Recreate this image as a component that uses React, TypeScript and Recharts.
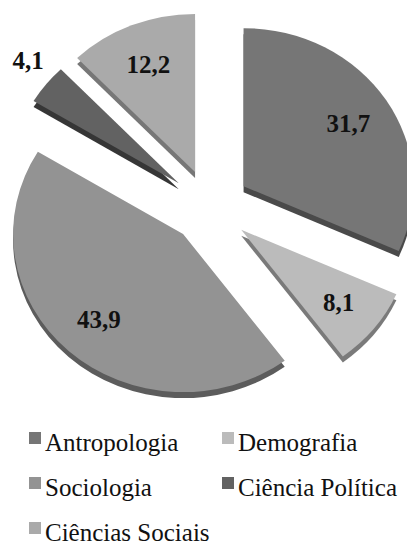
import React from 'react';
import { PieChart, Pie, Cell, Sector, Legend } from 'recharts';

// share of each field (%)
const categories = ['Antropologia', 'Demografia', 'Sociologia', 'Ciência Política', 'Ciências Sociais'];
const shares = [31.7, 8.1, 43.9, 4.1, 12.2];

const faceColors = ['#767676', '#bbbbbb', '#939393', '#626262', '#aaaaaa'];
const sideColors = ['#4a4a4a', '#7a7a7a', '#5c5c5c', '#363636', '#777777'];

const data = categories.map((name, i) => ({ name, value: shares[i] }));

const RAD = Math.PI / 180;
const EXPLODE = 40;
const TILT = 0.93;
const DEPTH = 6;
const FONT = '"Liberation Serif", "Times New Roman"';

const dirOf = (angle: number) => ({ x: Math.cos(-angle * RAD), y: Math.sin(-angle * RAD) });

// slice pulled out along its mid angle, slightly flattened, with a darker rim underneath
const ExplodedSlice = (props: any) => {
  const { cx, cy, midAngle } = props;
  const name = props.payload?.name ?? props.name;
  const idx = categories.indexOf(name);
  const d = dirOf(midAngle);
  const tx = d.x * EXPLODE;
  const ty = cy * (1 - TILT) + d.y * EXPLODE * TILT;
  return (
    <g>
      <g transform={`matrix(1 0 0 ${TILT} ${tx} ${ty + DEPTH})`}>
        <Sector {...props} fill={sideColors[idx]} stroke="none" />
      </g>
      <g transform={`matrix(1 0 0 ${TILT} ${tx} ${ty})`}>
        <Sector {...props} stroke="none" />
      </g>
    </g>
  );
};

const renderLabel = (props: any) => {
  const { cx, cy, midAngle, outerRadius, value, percent } = props;
  const d = dirOf(midAngle);
  const outside = percent < 0.05;
  const dist = EXPLODE + (outside ? outerRadius + 23 : outerRadius * 0.735);
  const squash = outside ? 1 : TILT;
  return (
    <text
      x={cx + d.x * dist}
      y={cy + d.y * dist * squash}
      textAnchor="middle"
      dominantBaseline="central"
      style={{ fontFamily: FONT, fontWeight: 'bold', fontSize: 25 }}
      fill="#111"
    >
      {value.toFixed(1).replace('.', ',')}
    </text>
  );
};

const renderLegend = (props: any) => {
  const payload = [...(props.payload || [])].sort(
    (a: any, b: any) => categories.indexOf(a.value) - categories.indexOf(b.value)
  );
  return (
    <div
      style={{
        display: 'grid',
        gridTemplateColumns: '193px 185px',
        paddingLeft: 29,
        fontFamily: FONT,
        fontSize: 25,
        color: '#111',
      }}
    >
      {payload.map((entry: any) => (
        <div key={entry.value} style={{ display: 'flex', alignItems: 'flex-start', height: 45, lineHeight: '29px' }}>
          <span style={{ width: 12, height: 12, background: entry.color, marginTop: 4, marginRight: 4, flex: 'none' }} />
          <span style={{ whiteSpace: 'nowrap' }}>{entry.value}</span>
        </div>
      ))}
    </div>
  );
};

export default function App() {
  return (
    <div style={{ width: 407, height: 546, position: 'relative', background: '#fff' }}>
      <style>{'body{margin:0}'}</style>
      <PieChart width={407} height={546} margin={{ top: 0, right: 0, bottom: 0, left: 0 }}>
        <Pie
          data={data}
          dataKey="value"
          nameKey="name"
          cx={210}
          cy={206.5}
          outerRadius={170}
          startAngle={90}
          endAngle={-270}
          stroke="none"
          shape={ExplodedSlice}
          activeShape={ExplodedSlice}
          inactiveShape={ExplodedSlice}
          label={renderLabel}
          labelLine={false}
          isAnimationActive={false}
        >
          {data.map((entry, i) => (
            <Cell key={entry.name} fill={faceColors[i]} />
          ))}
        </Pie>
        <Legend content={renderLegend} verticalAlign="bottom" wrapperStyle={{ top: 428, left: 0, width: 407, bottom: 'auto' }} />
      </PieChart>
    </div>
  );
}
